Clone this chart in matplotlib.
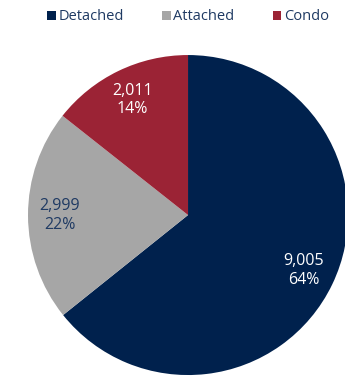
import matplotlib
matplotlib.use("Agg")
import matplotlib.pyplot as plt
import numpy as np

plt.rcParams['font.family'] = ['Open Sans', 'DejaVu Sans']

# sales by housing type
categories = ['Detached', 'Attached', 'Condo']
counts = [9005, 2999, 2011]
pct_labels = ['64%', '22%', '14%']
colors = ['#00214d', '#a6a6a6', '#9b2335']
text_colors = ['white', '#1f3a63', 'white']
NAVY = '#1f3a63'

fig = plt.figure(figsize=(3.45, 3.76), dpi=100)
ax = fig.add_axes([0, 0, 1, 1])

wedges, _ = ax.pie(counts, colors=colors, startangle=90, counterclock=False,
                   radius=1.0, wedgeprops=dict(linewidth=0))

# value + share written inside each slice
for w, n, p, tc in zip(wedges, counts, pct_labels, text_colors):
    mid = np.deg2rad((w.theta1 + w.theta2) / 2)
    r = 0.8
    ax.text(r * np.cos(mid), r * np.sin(mid), f"{n:,}\n{p}", ha='center', va='center',
            color=tc, fontsize=11.5, linespacing=1.2)

ax.set_xlim(-1.175, 0.981)
ax.set_ylim(-1.006, 1.344)
ax.set_aspect('auto')
ax.axis('off')

leg = fig.legend(wedges, categories, ncol=3, loc='center', bbox_to_anchor=(0.545, 0.955),
                 frameon=False, handlelength=0.6, handleheight=0.6, handletextpad=0.2,
                 columnspacing=2.6, fontsize=10.5, borderaxespad=0)
for t in leg.get_texts():
    t.set_color(NAVY)

fig.savefig('out.png', dpi=100)
